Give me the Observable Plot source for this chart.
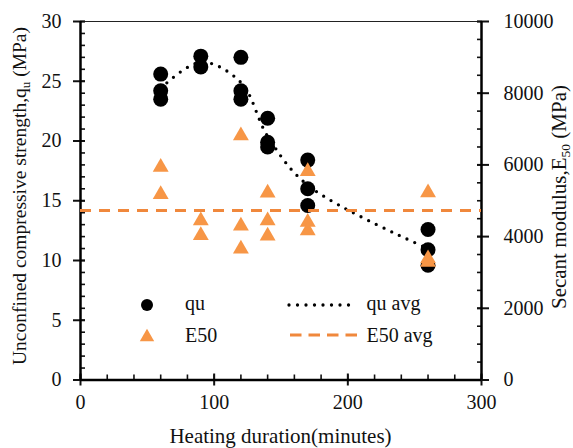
<!DOCTYPE html>
<html><head><meta charset="utf-8">
<script src="https://cdn.jsdelivr.net/npm/d3@7"></script>
<script src="https://cdn.jsdelivr.net/npm/@observablehq/plot@0.6"></script>
<style>
html,body{margin:0;padding:0;background:#fff;}
#chart{position:relative;width:573px;height:448px;}
#chart svg, #chart svg text, #chart svg tspan{font-family:'Liberation Serif','Times New Roman','DejaVu Serif',serif !important;font-variant-ligatures:none;}
</style></head><body><div id="chart"></div>
<script>
// ---- data ----
const quDuration = [60,60,60,90,90,120,120,120,140,140,140,170,170,170,260,260,260];
const quValues   = [25.6,24.2,23.5,27.1,26.2,27.0,24.2,23.5,21.9,19.9,19.5,18.4,16.0,14.6,12.6,10.9,9.6];
const e50Duration = [60,60,90,90,120,120,120,140,140,140,170,170,170,260,260,260];
const e50Values   = [6000,5240,4510,4100,6880,4360,3720,5280,4510,4080,5880,4470,4230,5290,3450,3350];
const avgDuration = [60,90,120,140,170,260];
const quAvg       = [24.4,26.6,24.9,20.4,16.3,11.0];
const e50Avg      = [4730];
const xTicks   = [0,100,200,300];
const quTicks  = [0,5,10,15,20,25,30];
const e50Ticks = [0,2000,4000,6000,8000,10000];
const qMax = 30, eMax = 10000, xMax = 300;

const toQ = e => e * qMax / eMax;
const quData = quDuration.map((d,i)=>({x:d, y:quValues[i]}));
const e50Data = e50Duration.map((d,i)=>({x:d, y:toQ(e50Values[i])}));
const avgData = avgDuration.map((d,i)=>({x:d, y:quAvg[i]}));

const ORANGE = "#F79646", ORANGE_LINE = "#F0883C";

const chart = Plot.plot({
  width: 573, height: 448,
  marginLeft: 80, marginRight: 92, marginTop: 21, marginBottom: 68.5,
  style: {background: "#fff", color: "#111"},
  x: {domain: [0, xMax]},
  y: {domain: [0, qMax]},
  marks: [
    Plot.ruleY([qMax], {stroke: "#222", strokeWidth: 1.2}),
    Plot.axisY({anchor: "left", ticks: d3.range(0, qMax + 1, 1), tickSize: 5, dx: 5, text: null, strokeWidth: 1.6, label: null}),
    Plot.axisY({anchor: "left", ticks: quTicks, tickSize: 12, dx: 5, text: null, strokeWidth: 2, label: null}),
    Plot.axisY({anchor: "left", ticks: quTicks, tickSize: 0, tickPadding: 19, fontSize: 20, tickFormat: d3.format("d"), label: null}),
    Plot.axisY({anchor: "right", ticks: d3.range(0, eMax + 1, 500).map(toQ), tickSize: 5, dx: -5, text: null, strokeWidth: 1.6, label: null}),
    Plot.axisY({anchor: "right", ticks: e50Ticks.map(toQ), tickSize: 12, dx: -5, text: null, strokeWidth: 2, label: null}),
    Plot.axisY({anchor: "right", ticks: e50Ticks.map(toQ), tickSize: 0, tickPadding: 22, fontSize: 20, tickFormat: t => String(Math.round(t * eMax / qMax)), label: null}),
    Plot.axisX({anchor: "bottom", ticks: d3.range(0, xMax + 1, 20), tickSize: 5, dy: -5, text: null, strokeWidth: 1.6, label: null}),
    Plot.axisX({anchor: "bottom", ticks: xTicks, tickSize: 12, dy: -6, text: null, strokeWidth: 2, label: null}),
    Plot.axisX({anchor: "bottom", ticks: xTicks, tickSize: 0, tickPadding: 15, fontSize: 20, tickFormat: d3.format("d"), label: null}),
    Plot.ruleX([0], {stroke: "#000", strokeWidth: 2.5}),
    Plot.ruleX([xMax], {stroke: "#000", strokeWidth: 2.5}),
    Plot.ruleY([0], {stroke: "#000", strokeWidth: 2.5}),
    Plot.line(avgData, {x: "x", y: "y", curve: "catmull-rom", stroke: "#000", strokeWidth: 3.3, strokeDasharray: "0 8.5", strokeLinecap: "round"}),
    Plot.dot(quData, {x: "x", y: "y", r: 7.5, fill: "#000", stroke: "none"}),
    Plot.dot(e50Data, {x: "x", y: "y", symbol: "triangle", r: 5.9, dy: 2.3, fill: ORANGE, stroke: "none"}),
    Plot.ruleY(e50Avg, {y: d => toQ(d), stroke: ORANGE_LINE, strokeWidth: 3, strokeDasharray: "11 8"})
  ]
});

document.getElementById("chart").appendChild(chart);

const svg = d3.select(chart);
const tc = "#111";
svg.append("text").attr("x", 280.5).attr("y", 443).attr("text-anchor", "middle")
  .attr("font-size", 21).attr("fill", tc).text("Heating duration(minutes)");
const lt = svg.append("text").attr("transform", "translate(26,196) rotate(-90)")
  .attr("text-anchor", "middle").attr("font-size", 19.5).attr("fill", tc);
lt.append("tspan").text("Unconfined compressive strength,q");
lt.append("tspan").attr("font-size", 13).attr("dy", 4).text("u");
lt.append("tspan").attr("dy", -4).text(" (MPa)");
const rt = svg.append("text").attr("transform", "translate(566,197) rotate(-90)")
  .attr("text-anchor", "middle").attr("font-size", 21).attr("fill", tc);
rt.append("tspan").text("Secant modulus,E");
rt.append("tspan").attr("font-size", 13.5).attr("dy", 4).text("50");
rt.append("tspan").attr("dy", -4).text(" (MPa)");

const lg = svg.append("g").attr("font-size", 20).attr("fill", tc).attr("text-anchor", "start");
lg.append("circle").attr("cx", 147).attr("cy", 305).attr("r", 6).attr("fill", "#000");
lg.append("path").attr("d", d3.symbol(d3.symbolTriangle, 90)()).attr("transform", "translate(147,337)").attr("fill", ORANGE);
lg.append("text").attr("x", 185).attr("y", 309.5).text("qu");
lg.append("text").attr("x", 185).attr("y", 341.7).text("E50");
lg.append("line").attr("x1", 289).attr("x2", 357).attr("y1", 305).attr("y2", 305)
  .attr("stroke", "#000").attr("stroke-width", 3.3).attr("stroke-dasharray", "0 8.5").attr("stroke-linecap", "round");
lg.append("line").attr("x1", 290).attr("x2", 358).attr("y1", 335).attr("y2", 335)
  .attr("stroke", ORANGE_LINE).attr("stroke-width", 3).attr("stroke-dasharray", "11.5 7");
lg.append("text").attr("x", 366.5).attr("y", 309.5).text("qu avg");
lg.append("text").attr("x", 366.5).attr("y", 341.7).text("E50 avg");
</script></body></html>
